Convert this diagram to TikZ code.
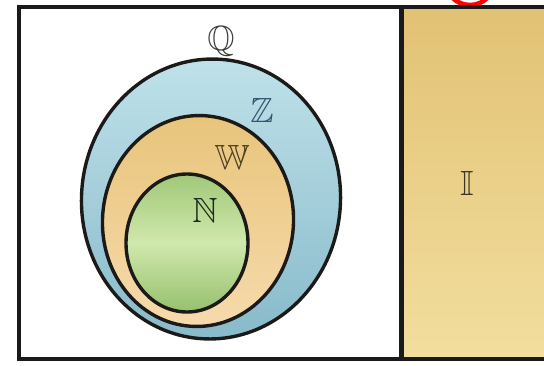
\documentclass[tikz,border=0pt]{standalone}
\usepackage{amsmath,amssymb}
\usetikzlibrary{positioning, shapes.geometric}
\definecolor{framegray}{RGB}{28,26,24}
\definecolor{bluetop}{RGB}{192,226,234}
\definecolor{bluebot}{RGB}{136,186,202}
\definecolor{tantop}{RGB}{232,196,122}
\definecolor{tanbot}{RGB}{246,218,172}
\definecolor{greentop}{RGB}{160,200,120}
\definecolor{greenmid}{RGB}{208,232,172}
\definecolor{greenbot}{RGB}{150,192,110}
\definecolor{paneltop}{RGB}{226,194,116}
\definecolor{panelbot}{RGB}{242,222,158}
\definecolor{zblue}{RGB}{52,82,112}
\definecolor{wbrown}{RGB}{78,62,36}
\definecolor{ndark}{RGB}{30,40,30}
\definecolor{ibrown}{RGB}{60,52,36}
\tikzset{
  setoval/.style={ellipse, draw=framegray, line width=3.4pt, inner sep=0pt},
  setlbl/.style={font=\fontsize{35}{35}\selectfont, inner sep=0pt},
  frameline/.style={draw=framegray, line width=4pt},
}

\begin{document}
\begin{tikzpicture}[x=1pt, y=-1pt]
  \useasboundingbox (0,0) rectangle (544,365);
  \clip (0,0) rectangle (544,365);
  % right panel
  \path[top color=paneltop, bottom color=panelbot] (401,7) rectangle (546,359);
  \draw[red, line width=4.5pt] (470,-20) circle (25);
  % frame
  \draw[frameline] (546,7) -- (19,7) -- (19,359) -- (546,359);
  \draw[draw=framegray, line width=5pt] (401,7) -- (401,359);
  % sets
  \node[setoval, top color=bluetop, bottom color=bluebot,
        minimum width=259pt, minimum height=280pt, rotate=-4] (qset) at (211,199) {};
  \node[setoval, top color=tantop, bottom color=tanbot,
        minimum width=191pt, minimum height=211pt, rotate=-4] (wset) at (198,221) {};
  \node[setoval, top color=greentop, bottom color=greenbot, middle color=greenmid,
        minimum width=122pt, minimum height=138pt] (nset) at (187,243) {};
  % labels
  \node[setlbl, text=framegray!85, above=1pt of qset.north] (qlbl) {$\mathbb{Q}$};
  \node[setlbl, text=zblue] (zlbl) at (262,110) {$\mathbb{Z}$};
  \node[setlbl, text=wbrown] (wlbl) at (232,157) {$\mathbb{W}$};
  \node[setlbl, text=ndark] (nlbl) at (205,210) {$\mathbb{N}$};
  \node[setlbl, text=ibrown] (ilbl) at (467,183) {$\mathbb{I}$};
\end{tikzpicture}
\end{document}
